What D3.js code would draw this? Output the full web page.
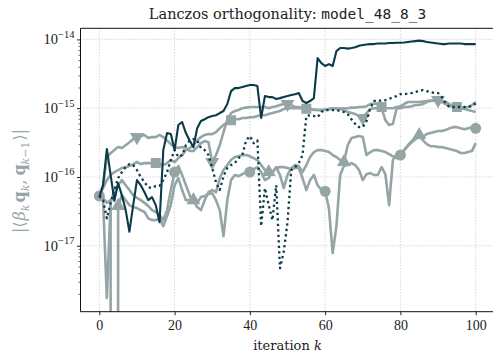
<!DOCTYPE html>
<html>
<head>
<meta charset="utf-8">
<script src="https://cdn.jsdelivr.net/npm/d3@7"></script>
<style>
  body { margin: 0; background: #fff; }
  svg { display: block; }
</style>
</head>
<body>
<svg id="chart" width="493" height="353"></svg>
<script>
// Iteration index k = 0..100
const iterations = d3.range(0, 101);

// |<beta_k q_k, q_{k-1}>| per iteration, one array per variant
const darkSolid = [
  5.1e-17, 7.6e-17, 2.55e-16, 1.07e-16, 4.5e-17, 8.1e-17, 5.4e-17, 3.3e-17, 1.6e-17, 3.9e-17,
  9.0e-17, 7.6e-17, 6.0e-17, 4.6e-17, 5.1e-17, 3.9e-17, 2.2e-17, 2.46e-16, 4.35e-16, 4.2e-16,
  2.46e-16, 5.7e-16, 6.3e-16, 4.35e-16, 3.4e-16, 2.7e-16, 5.1e-16, 6.5e-16, 6.9e-16, 7.4e-16,
  7.7e-16, 7.9e-16, 8.5e-16, 9.1e-16, 1.15e-15, 1.77e-15, 1.96e-15, 1.96e-15, 2.03e-15, 2.1e-15,
  2.17e-15, 2.17e-15, 2.1e-15, 7.2e-16, 1.5e-15, 1.45e-15, 1.45e-15, 1.36e-15, 1.4e-15, 1.45e-15,
  1.5e-15, 1.55e-15, 1.6e-15, 1.66e-15, 1.27e-15, 1.19e-15, 1.27e-15, 1.4e-15, 5.35e-15, 4.52e-15,
  4.1e-15, 4.38e-15, 4.1e-15, 6.75e-15, 7.5e-15, 7.5e-15, 7.35e-15, 7.5e-15, 7.7e-15, 8.1e-15,
  8.3e-15, 8.45e-15, 8.55e-15, 8.55e-15, 8.7e-15, 8.7e-15, 8.7e-15, 8.85e-15, 8.85e-15, 8.95e-15,
  8.95e-15, 9.0e-15, 9.15e-15, 9.3e-15, 9.45e-15, 9.6e-15, 9.45e-15, 9.15e-15, 9.0e-15, 8.85e-15,
  8.7e-15, 8.55e-15, 8.55e-15, 8.7e-15, 8.7e-15, 8.7e-15, 8.7e-15, 8.55e-15, 8.55e-15, 8.55e-15,
  8.55e-15
];

const darkDotted = [
  5.3e-17, 4.6e-17, 2.5e-17, 4.2e-17, 6.45e-17, 9.65e-17, 1.18e-16, 1.39e-16, 1.54e-16, 1.49e-16,
  1.26e-16, 1.0e-16, 8.4e-17, 7.1e-17, 6.9e-17, 7.4e-17, 7.4e-17, 9.0e-17, 1.18e-16, 1.76e-16,
  2.46e-16, 1.95e-16, 2.08e-16, 2.9e-16, 3.4e-16, 3.55e-16, 3.4e-16, 2.63e-16, 2.46e-16, 2.08e-16,
  1.35e-16, 8.4e-17, 6.45e-17, 1.03e-16, 1.35e-16, 1.49e-16, 1.59e-16, 1.88e-16, 2.08e-16, 3.4e-16,
  3.93e-16, 3.1e-16, 3.4e-16, 1.93e-17, 6.9e-17, 3.9e-17, 2.36e-17, 7.6e-17, 4.7e-18, 8.1e-18,
  2.2e-17, 1.26e-16, 1.39e-16, 1.59e-16, 2.08e-16, 7.7e-16, 7.9e-16, 7.7e-16, 7.4e-16, 8.8e-16,
  9.4e-16, 9.4e-16, 9.4e-16, 9.4e-16, 9.1e-16, 8.8e-16, 8.2e-16, 6.9e-16, 5.9e-16, 5.3e-16,
  5.3e-16, 6.5e-16, 1.0e-15, 1.27e-15, 1.31e-15, 1.27e-15, 1.31e-15, 1.36e-15, 1.45e-15, 1.5e-15,
  1.6e-15, 1.6e-15, 1.63e-15, 1.66e-15, 1.71e-15, 1.8e-15, 1.83e-15, 1.77e-15, 1.71e-15, 1.66e-15,
  1.66e-15, 1.45e-15, 1.19e-15, 1.04e-15, 1.04e-15, 1.04e-15, 1.04e-15, 1.04e-15, 1.05e-15, 1.07e-15,
  1.17e-15
];

const grayCircle = [
  5.3e-17, 4.6e-17, 1.74e-18, 4.2e-17, 6.45e-17, 7.6e-17, 9.0e-17, 7.6e-17, 6.45e-17, 5.45e-17,
  4.95e-17, 4.6e-17, 4.2e-17, 3.8e-17, 3.3e-17, 3.1e-17, 2.8e-17, 2.36e-17, 3.3e-17, 6.45e-17,
  1.18e-16, 1.44e-16, 1.07e-16, 7.6e-17, 5.45e-17, 4.2e-17, 4.2e-17, 5.1e-17, 5.3e-17, 5.65e-17,
  5.8e-17, 4.6e-17, 3.3e-17, 1.38e-17, 4.6e-17, 9.0e-17, 1.07e-16, 1.03e-16, 1.1e-16, 1.18e-16,
  1.18e-16, 1.3e-16, 1.39e-16, 1.18e-16, 9.0e-17, 9.65e-17, 1.18e-16, 1.35e-16, 1.39e-16, 1.39e-16,
  1.35e-16, 1.3e-16, 1.35e-16, 1.35e-16, 9.65e-17, 6.45e-17, 9.0e-17, 1.07e-16, 7.6e-17, 6.45e-17,
  6.2e-17, 3.53e-17, 7.85e-18, 1.93e-17, 1.07e-16, 1.44e-16, 1.49e-16, 1.59e-16, 1.49e-16, 1.26e-16,
  9.0e-17, 1.1e-16, 1.14e-16, 1.07e-16, 1.07e-16, 1.39e-16, 1.1e-16, 3.9e-17, 1.76e-16, 2.15e-16,
  2.08e-16, 2.46e-16, 2.8e-16, 3.2e-16, 3.55e-16, 3.8e-16, 3.8e-16, 4.2e-16, 4.35e-16, 4.5e-16,
  4.65e-16, 4.65e-16, 4.8e-16, 5.1e-16, 5.3e-16, 5.3e-16, 5.1e-16, 4.95e-16, 5.1e-16, 5.3e-16,
  5.1e-16
];

// an exact zero is kept as 0 and drawn clipped below the axis
const grayTriUp = [
  5.3e-17, 4.95e-17, 4.2e-17, 4.6e-17, 0, 3.8e-17, 5.45e-17, 4.6e-17, 3.9e-17, 3.65e-17,
  3.53e-17, 3.3e-17, 3.1e-17, 2.5e-17, 2.36e-17, 2.36e-17, 2.5e-17, 1.93e-17, 2.7e-17, 3.9e-17,
  7.6e-17, 9.65e-17, 6.45e-17, 4.6e-17, 4.6e-17, 4.6e-17, 3.65e-17, 3.3e-17, 4.6e-17, 6.0e-17,
  6.45e-17, 6.0e-17, 9.65e-17, 1.26e-16, 1.49e-16, 1.76e-16, 1.95e-16, 2.0e-16, 2.08e-16, 2.08e-16,
  2.0e-16, 1.88e-16, 1.76e-16, 1.49e-16, 1.26e-16, 1.18e-16, 1.18e-16, 1.39e-16, 1.07e-16, 6.9e-17,
  1.07e-16, 1.35e-16, 1.49e-16, 1.44e-16, 1.18e-16, 1.49e-16, 1.95e-16, 2.3e-16, 2.46e-16, 2.46e-16,
  2.38e-16, 2.3e-16, 2.08e-16, 1.95e-16, 1.76e-16, 1.65e-16, 2.9e-16, 3.68e-16, 3.8e-16, 3.93e-16,
  3.8e-16, 2.08e-16, 2.3e-16, 2.46e-16, 2.46e-16, 2.38e-16, 2.3e-16, 2.15e-16, 2.0e-16, 1.88e-16,
  1.88e-16, 2.46e-16, 2.9e-16, 3.33e-16, 3.8e-16, 4.08e-16, 3.4e-16, 3.0e-16, 2.8e-16, 2.8e-16,
  2.72e-16, 2.72e-16, 2.63e-16, 2.55e-16, 2.46e-16, 2.38e-16, 2.23e-16, 2.23e-16, 2.3e-16, 2.38e-16,
  3.1e-16
];

const grayTriDown = [
  5.3e-17, 7.6e-17, 1.95e-16, 2.22e-16, 2.46e-16, 2.72e-16, 2.63e-16, 2.9e-16, 3.2e-16, 3.55e-16,
  3.8e-16, 3.93e-16, 4.08e-16, 3.68e-16, 3.8e-16, 3.8e-16, 4.08e-16, 3.8e-16, 3.4e-16, 3.0e-16,
  2.72e-16, 2.63e-16, 2.72e-16, 2.63e-16, 2.38e-16, 2.38e-16, 2.72e-16, 3.1e-16, 3.33e-16, 3.2e-16,
  1.65e-16, 2.08e-16, 2.9e-16, 4.5e-16, 6.7e-16, 8.5e-16, 9.1e-16, 9.4e-16, 1.0e-15, 1.02e-15,
  1.04e-15, 1.04e-15, 1.04e-15, 1.04e-15, 1.04e-15, 1.0e-15, 1.04e-15, 1.07e-15, 1.11e-15, 1.15e-15,
  1.15e-15, 1.11e-15, 1.04e-15, 1.04e-15, 1.0e-15, 9.7e-16, 9.7e-16, 9.4e-16, 9.4e-16, 9.4e-16,
  9.4e-16, 9.7e-16, 1.0e-15, 1.0e-15, 9.7e-16, 9.4e-16, 8.8e-16, 8.5e-16, 8.2e-16, 7.7e-16,
  7.2e-16, 8.5e-16, 9.7e-16, 1.0e-15, 1.0e-15, 1.0e-15, 6.7e-16, 5.7e-16, 5.9e-16, 1.0e-15,
  1.0e-15, 1.04e-15, 1.04e-15, 1.07e-15, 1.11e-15, 1.11e-15, 1.15e-15, 1.23e-15, 1.27e-15, 1.31e-15,
  1.31e-15, 1.23e-15, 1.15e-15, 1.07e-15, 1.07e-15, 1.04e-15, 1.0e-15, 9.7e-16, 9.4e-16, 9.1e-16,
  8.8e-16
];

const graySquare = [
  5.3e-17, 6.9e-17, 9.0e-17, 1.07e-16, 1.18e-16, 1.26e-16, 1.35e-16, 1.39e-16, 1.44e-16, 1.54e-16,
  1.65e-16, 1.54e-16, 1.59e-16, 1.59e-16, 1.59e-16, 1.59e-16, 1.54e-16, 1.49e-16, 1.59e-16, 1.76e-16,
  1.65e-16, 1.88e-16, 2.08e-16, 2.46e-16, 2.63e-16, 2.9e-16, 3.4e-16, 3.8e-16, 4.08e-16, 4.2e-16,
  4.2e-16, 4.5e-16, 5.1e-16, 5.7e-16, 6.3e-16, 6.7e-16, 6.9e-16, 6.9e-16, 7.2e-16, 7.2e-16,
  7.4e-16, 7.4e-16, 7.7e-16, 7.9e-16, 7.9e-16, 8.2e-16, 8.5e-16, 8.8e-16, 9.1e-16, 9.7e-16,
  1.0e-15, 1.0e-15, 1.0e-15, 1.0e-15, 1.0e-15, 9.85e-16, 9.7e-16, 9.55e-16, 9.4e-16, 9.4e-16,
  9.55e-16, 9.7e-16, 9.85e-16, 9.85e-16, 9.85e-16, 1.0e-15, 1.0e-15, 1.02e-15, 1.02e-15, 1.04e-15,
  1.04e-15, 1.07e-15, 1.15e-15, 1.17e-15, 1.15e-15, 1.04e-15, 1.0e-15, 1.0e-15, 1.0e-15, 1.04e-15,
  1.07e-15, 1.15e-15, 1.23e-15, 1.23e-15, 1.23e-15, 1.23e-15, 1.25e-15, 1.27e-15, 1.29e-15, 1.29e-15,
  1.29e-15, 1.27e-15, 1.23e-15, 1.15e-15, 1.07e-15, 1.04e-15, 1.02e-15, 1.02e-15, 1.04e-15, 1.11e-15,
  1.23e-15
];

// Axis ticks
const xTicks = [0, 20, 40, 60, 80, 100];
const yTicks = [1e-17, 1e-16, 1e-15, 1e-14];
const yTickExponents = ["\u221217", "\u221216", "\u221215", "\u221214"];

// ---------------------------------------------------------------------------
const GRAY = "#95a5a6";
const DARK = "#0b3a48";
const box = { left: 80.5, right: 494.5, top: 28.3, bottom: 311.7 };

const svg = d3.select("#chart");

const x = d3.scaleLinear().domain([-5, 105]).range([box.left, box.right]);
const y = d3.scaleLog().domain([1.1e-18, 1.45e-14]).range([box.bottom, box.top]);

// non-positive values fall far below the axis (clipped away)
const yPos = v => (v > 0 ? y(v) : y(1e-300));

svg.append("defs").append("clipPath").attr("id", "plot-clip")
  .append("rect")
  .attr("x", box.left).attr("y", box.top)
  .attr("width", box.right - box.left).attr("height", box.bottom - box.top);

// grid
const grid = svg.append("g")
  .attr("stroke", "#b8b8b8").attr("stroke-width", 0.8)
  .attr("stroke-dasharray", "1,2").attr("fill", "none");
grid.selectAll(".gx").data(xTicks).join("line")
  .attr("x1", d => x(d)).attr("x2", d => x(d))
  .attr("y1", box.top).attr("y2", box.bottom);
grid.selectAll(".gy").data(yTicks).join("line")
  .attr("x1", box.left).attr("x2", box.right)
  .attr("y1", d => y(d)).attr("y2", d => y(d));

// series
const series = [
  { values: grayCircle,  color: GRAY, width: 2.6, marker: "circle",   first: 0 },
  { values: grayTriUp,   color: GRAY, width: 2.6, marker: "triUp",    first: 5 },
  { values: grayTriDown, color: GRAY, width: 2.6, marker: "triDown",  first: 10 },
  { values: graySquare,  color: GRAY, width: 2.6, marker: "square",   first: 15 },
  { values: darkDotted,  color: DARK, width: 2.3, dash: "2.3,3.2" },
  { values: darkSolid,   color: DARK, width: 2.1 }
];

const plot = svg.append("g").attr("clip-path", "url(#plot-clip)");
const line = d3.line().x((d, i) => x(iterations[i])).y(d => yPos(d));

const symbolFor = {
  circle:  { type: d3.symbolCircle,   size: 95,  rot: 0 },
  triUp:   { type: d3.symbolTriangle, size: 85,  rot: 0 },
  triDown: { type: d3.symbolTriangle, size: 85,  rot: 180 },
  square:  { type: d3.symbolSquare,   size: 100, rot: 0 }
};

series.forEach(s => {
  plot.append("path")
    .datum(s.values)
    .attr("d", line)
    .attr("fill", "none")
    .attr("stroke", s.color)
    .attr("stroke-width", s.width)
    .attr("stroke-linejoin", "round")
    .attr("stroke-dasharray", s.dash || null);
  if (s.marker) {
    const sym = symbolFor[s.marker];
    const idx = iterations.filter(k => k >= s.first && (k - s.first) % 20 === 0);
    plot.selectAll(null).data(idx).join("path")
      .attr("d", d3.symbol().type(sym.type).size(sym.size))
      .attr("transform", k => `translate(${x(k)},${yPos(s.values[k])}) rotate(${sym.rot})`)
      .attr("fill", s.color);
  }
});

// axes
const xAxis = svg.append("g")
  .attr("transform", `translate(0,${box.bottom})`)
  .call(d3.axisBottom(x).tickValues(xTicks).tickSize(3.5).tickPadding(5).tickFormat(d3.format("d")));
xAxis.select(".domain").remove();
xAxis.selectAll("text")
  .style("font-family", "'Liberation Serif', serif").style("font-size", "14px").attr("fill", "#222");
xAxis.selectAll("line").attr("stroke", "#222");

const yAxis = svg.append("g")
  .attr("transform", `translate(${box.left},0)`)
  .call(d3.axisLeft(y).tickValues(yTicks).tickSize(3.5).tickFormat(""));
yAxis.select(".domain").remove();
yAxis.selectAll("line").attr("stroke", "#222");

const minorTicks = [];
for (let e = -18; e <= -15; e++) {
  for (let m = 2; m <= 9; m++) {
    const v = m * Math.pow(10, e);
    if (v >= y.domain()[0] && v <= y.domain()[1]) minorTicks.push(v);
  }
}
const yMinor = svg.append("g")
  .attr("transform", `translate(${box.left},0)`)
  .call(d3.axisLeft(y).tickValues(minorTicks).tickSize(2).tickFormat(""));
yMinor.select(".domain").remove();
yMinor.selectAll("line").attr("stroke", "#222").attr("stroke-width", 0.7);

// y tick labels as 10^n
const yLab = svg.append("g")
  .style("font-family", "'Liberation Serif', serif").attr("fill", "#222");
yTicks.forEach((t, i) => {
  const txt = yLab.append("text")
    .attr("x", box.left - 6).attr("y", y(t) + 5)
    .attr("text-anchor", "end").style("font-size", "14.5px");
  txt.append("tspan").text("10");
  txt.append("tspan").attr("dy", -6.5).style("font-size", "10.5px").text(yTickExponents[i]);
});

// spines
const spines = svg.append("g").attr("stroke", "#111").attr("stroke-width", 1).attr("fill", "none");
spines.append("line").attr("x1", box.left).attr("x2", box.left).attr("y1", box.top).attr("y2", box.bottom);
spines.append("line").attr("x1", box.left).attr("x2", box.right).attr("y1", box.top).attr("y2", box.top);
spines.append("line").attr("x1", box.left).attr("x2", box.right).attr("y1", box.bottom).attr("y2", box.bottom);
spines.append("line").attr("x1", box.right).attr("x2", box.right).attr("y1", box.top).attr("y2", box.bottom);

// title
const title = svg.append("text")
  .attr("x", (box.left + box.right) / 2).attr("y", 19)
  .attr("text-anchor", "middle").attr("fill", "#222").style("font-size", "14.5px");
title.append("tspan").style("font-family", "'DejaVu Serif', serif").text("Lanczos orthogonality: ");
title.append("tspan").style("font-family", "'DejaVu Sans Mono', monospace").text("model_48_8_3");

// x label
const xl = svg.append("text")
  .attr("x", (box.left + box.right) / 2).attr("y", 350)
  .attr("text-anchor", "middle").attr("fill", "#222")
  .style("font-family", "'DejaVu Serif', serif").style("font-size", "13px");
xl.append("tspan").text("iteration ");
xl.append("tspan").attr("font-style", "italic").text("k");

// y label |<beta_k q_k, q_{k-1}>|
const yl = svg.append("text")
  .attr("transform", "translate(25,181) rotate(-90)")
  .attr("text-anchor", "middle").attr("fill", GRAY)
  .style("font-family", "'DejaVu Serif', serif").style("font-size", "16px");
const SUB = "11px";
yl.append("tspan").text("|\u27E8");
yl.append("tspan").attr("font-style", "italic").attr("dx", 1).text("\u03B2");
yl.append("tspan").attr("font-style", "italic").style("font-size", SUB).attr("dy", 3.5).text("k");
yl.append("tspan").attr("font-weight", "bold").attr("dx", 2).attr("dy", -3.5).text("q");
yl.append("tspan").attr("font-style", "italic").style("font-size", SUB).attr("dy", 3.5).text("k");
yl.append("tspan").attr("dy", -3.5).text(",");
yl.append("tspan").attr("font-weight", "bold").attr("dx", 4).text("q");
yl.append("tspan").attr("font-style", "italic").style("font-size", SUB).attr("dy", 3.5).text("k");
yl.append("tspan").style("font-size", SUB).text("\u22121");
yl.append("tspan").attr("dy", -3.5).attr("dx", 1).text("\u27E9|");
</script>
</body>
</html>
